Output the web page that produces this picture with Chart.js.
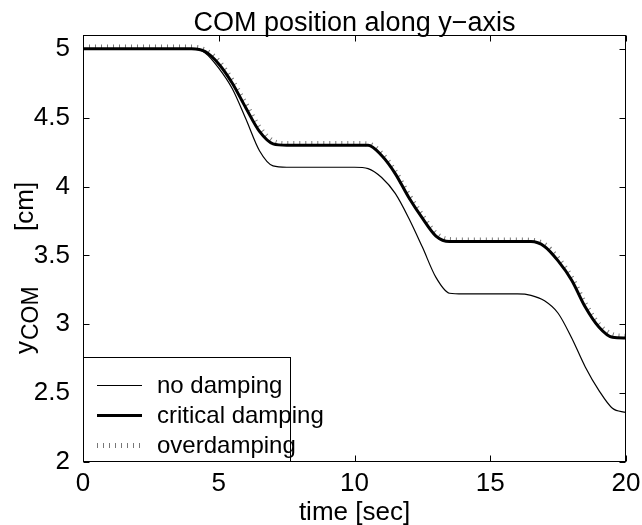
<!DOCTYPE html>
<html>
<head>
<meta charset="utf-8">
<script src="https://cdn.jsdelivr.net/npm/chart.js@4.4.1/dist/chart.umd.min.js"></script>
<style>
  html, body { margin: 0; padding: 0; background: #fff; }
  #wrap { width: 642px; height: 525px; }
</style>
</head>
<body>
<div id="wrap"><canvas id="comChart" width="642" height="525"></canvas></div>
<script>
// time samples [sec]
const timeSec = [0, 0.5, 1, 1.5, 2, 2.5, 3, 3.5, 4, 4.5, 5, 5.5, 6, 6.5, 7, 7.5, 8, 8.5, 9, 9.5,
  10, 10.5, 11, 11.5, 12, 12.5, 13, 13.5, 14, 14.5, 15, 15.5, 16, 16.5, 17, 17.5, 18, 18.5, 19, 19.5, 20];

// y_COM [cm]
const noDamping = [5, 5, 5, 5, 5, 5, 5, 5, 5, 4.97, 4.86, 4.71, 4.49, 4.26, 4.15, 4.14, 4.14, 4.14, 4.14, 4.14,
  4.14, 4.13, 4.065, 3.95, 3.77, 3.56, 3.34, 3.225, 3.22, 3.22, 3.22, 3.22, 3.22, 3.21, 3.17, 3.08, 2.9, 2.69, 2.52, 2.39, 2.36];
const criticalDamping = [5, 5, 5, 5, 5, 5, 5, 5, 5, 4.98, 4.89, 4.75, 4.57, 4.4, 4.31, 4.3, 4.3, 4.3, 4.3, 4.3,
  4.3, 4.3, 4.225, 4.094, 3.92, 3.77, 3.64, 3.6, 3.6, 3.6, 3.6, 3.6, 3.6, 3.6, 3.565, 3.46, 3.32, 3.125, 2.98, 2.905, 2.9];
const overDamping = [5.012, 5.012, 5.012, 5.012, 5.012, 5.012, 5.012, 5.012, 5.012, 4.99, 4.91, 4.77, 4.6, 4.43, 4.33, 4.312, 4.312, 4.312, 4.312, 4.312,
  4.312, 4.31, 4.24, 4.11, 3.94, 3.79, 3.66, 3.615, 3.612, 3.612, 3.612, 3.612, 3.612, 3.61, 3.58, 3.48, 3.34, 3.15, 3.0, 2.925, 2.912];

const seriesNames = ["no damping", "critical damping", "overdamping"];
const xTicks = [0, 5, 10, 15, 20];
const yTicks = [2, 2.5, 3, 3.5, 4, 4.5, 5];

const FONT = "'Liberation Sans', Arial, Helvetica, sans-serif";

function toPoints(values) {
  return timeSec.map((t, i) => ({ x: t, y: values[i] }));
}

// box, inward ticks, title, axis labels and legend drawn MATLAB style
const matlabFrame = {
  id: "matlabFrame",
  afterDatasetsDraw(chart) {
    const ctx = chart.ctx;
    const area = chart.chartArea;
    const xs = chart.scales.x;
    const ys = chart.scales.y;
    const L = Math.round(area.left) + 0.5;
    const R = Math.round(area.right) - 0.5;
    const T = Math.round(area.top) + 0.5;
    const B = Math.round(area.bottom) - 0.5;
    const tickLen = 6;

    ctx.save();
    ctx.strokeStyle = "#000";
    ctx.lineWidth = 1;
    ctx.strokeRect(L, T, R - L, B - T);

    ctx.beginPath();
    xTicks.forEach((v) => {
      const px = Math.round(xs.getPixelForValue(v)) + 0.5;
      ctx.moveTo(px, B); ctx.lineTo(px, B - tickLen);
      ctx.moveTo(px, T); ctx.lineTo(px, T + tickLen);
    });
    yTicks.forEach((v) => {
      const py = Math.round(ys.getPixelForValue(v)) + 0.5;
      ctx.moveTo(L, py); ctx.lineTo(L + tickLen, py);
      ctx.moveTo(R, py); ctx.lineTo(R - tickLen, py);
    });
    ctx.stroke();

    // title
    ctx.fillStyle = "#000";
    ctx.textAlign = "center";
    ctx.textBaseline = "alphabetic";
    ctx.font = "27px " + FONT;
    ctx.fillText("COM position along y\u2212axis", (L + R) / 2, 31);

    // x label
    ctx.font = "26px " + FONT;
    ctx.fillText("time [sec]", (L + R) / 2, 520);

    // y label with subscript, rotated (reads bottom to top)
    ctx.save();
    ctx.translate(33, 0);
    ctx.rotate(-Math.PI / 2);
    ctx.textAlign = "left";
    ctx.font = "26px " + FONT;
    ctx.fillText("y", -354, 0);
    ctx.font = "23px " + FONT;
    ctx.fillText("COM", -340, 5);
    ctx.font = "26px " + FONT;
    ctx.fillText("[cm]", -231, 0);
    ctx.restore();

    // legend box in lower left corner
    const lx = L, ly = 357.5, lw = 207, lh = B - 357.5;
    ctx.fillStyle = "#fff";
    ctx.fillRect(lx, ly, lw, lh);
    ctx.strokeRect(lx, ly, lw, lh);
    ctx.font = "24px " + FONT;
    ctx.textAlign = "left";
    ctx.textBaseline = "middle";
    chart.data.datasets.forEach((ds, i) => {
      const cy = 385 + i * 30;
      ctx.save();
      ctx.strokeStyle = ds.borderColor;
      ctx.lineWidth = ds.borderWidth;
      ctx.setLineDash(ds.borderDash || []);
      ctx.beginPath();
      ctx.moveTo(97, cy + 0.5);
      ctx.lineTo(142, cy + 0.5);
      ctx.stroke();
      ctx.restore();
      ctx.fillStyle = "#000";
      ctx.fillText(ds.label, 157, cy + 1);
    });
    ctx.restore();
  },
};

const ctx = document.getElementById("comChart").getContext("2d");
const comChart = new Chart(ctx, {
  type: "line",
  data: {
    datasets: [
      {
        label: seriesNames[0],
        data: toPoints(noDamping),
        borderColor: "#000",
        borderWidth: 1.2,
      },
      {
        label: seriesNames[1],
        data: toPoints(criticalDamping),
        borderColor: "#000",
        borderWidth: 3,
      },
      {
        label: seriesNames[2],
        data: toPoints(overDamping),
        borderColor: "#777",
        borderWidth: 5,
        borderDash: [1, 5],
      },
    ],
  },
  options: {
    responsive: false,
    animation: false,
    devicePixelRatio: 1,
    layout: { padding: { top: 35, right: 16, left: 0, bottom: 0 } },
    elements: {
      point: { radius: 0 },
      line: { cubicInterpolationMode: "monotone", fill: false },
    },
    plugins: {
      legend: { display: false },
      title: { display: false },
      tooltip: { enabled: false },
    },
    scales: {
      x: {
        type: "linear",
        min: 0,
        max: 20,
        afterBuildTicks: (scale) => {
          scale.ticks = xTicks.map((v) => ({ value: v }));
        },
        afterFit: (scale) => {
          scale.height = 63;
        },
        grid: { display: false },
        border: { display: false },
        ticks: {
          autoSkip: false,
          maxRotation: 0,
          padding: -2,
          color: "#000",
          font: { family: FONT, size: 26 },
          callback: (v) => String(v),
        },
      },
      y: {
        type: "linear",
        min: 2,
        max: 5.1,
        afterBuildTicks: (scale) => {
          scale.ticks = yTicks.map((v) => ({ value: v }));
        },
        afterFit: (scale) => {
          scale.width = 83;
        },
        grid: { display: false },
        border: { display: false },
        ticks: {
          padding: 5,
          color: "#000",
          font: { family: FONT, size: 26 },
          callback: (v) => String(v),
        },
      },
    },
  },
  plugins: [matlabFrame],
});
</script>
</body>
</html>
